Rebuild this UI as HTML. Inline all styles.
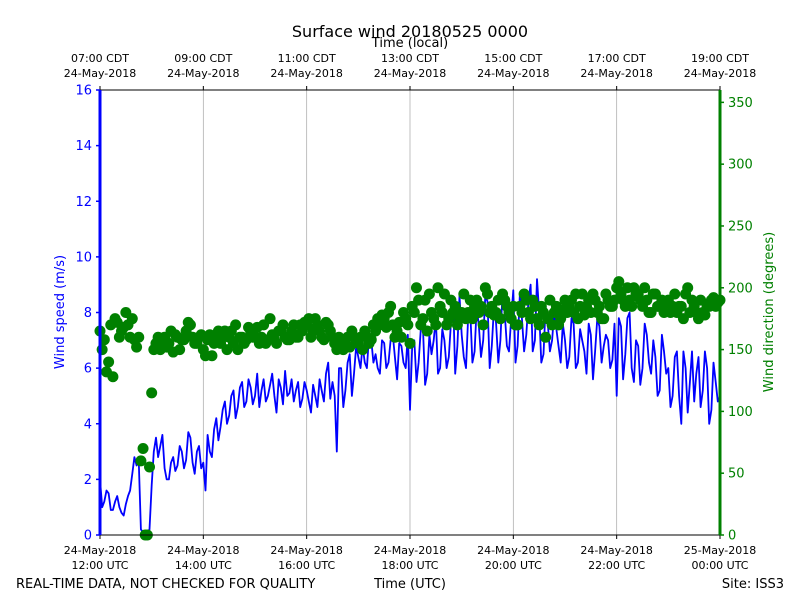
<!DOCTYPE html>
<html><head><meta charset="utf-8"><style>
body{margin:0;background:#fff;}
svg text{font-family:"DejaVu Sans","Liberation Sans",sans-serif;}
</style></head><body>
<svg id="chart" width="800" height="600" xmlns="http://www.w3.org/2000/svg">
<rect width="800" height="600" fill="#fff"/>
<text x="410" y="37" font-size="16" text-anchor="middle">Surface wind 20180525 0000</text>
<text x="410" y="47" font-size="13" text-anchor="middle">Time (local)</text>
<g id="grid"></g>
<g id="marks"></g>
<g id="axes"></g>
<text transform="translate(64,312) rotate(-90)" font-size="13" fill="#0000ff" text-anchor="middle">Wind speed (m/s)</text>
<text transform="translate(773,312) rotate(-90)" font-size="13" fill="#008000" text-anchor="middle">Wind direction (degrees)</text>
<text x="16" y="588" font-size="13">REAL-TIME DATA, NOT CHECKED FOR QUALITY</text>
<text x="410" y="588" font-size="13" text-anchor="middle">Time (UTC)</text>
<text x="784" y="588" font-size="13" text-anchor="end">Site: ISS3</text>
</svg>
<script>
const speed=[2.0,1.2,1.5,0.9,1.4,0.8,1.1,1.6,2.8,2.6,0.1,0.1,
1.8,3.5,3.2,2.4,2.0,2.8,2.5,3.0,2.7,3.5,2.2,3.2,
2.6,3.6,2.8,4.2,3.9,4.8,4.3,5.2,4.6,5.5,4.8,5.3,
5.0,4.6,5.6,5.0,5.8,4.4,5.3,5.9,5.1,4.8,5.5,4.9,
5.2,4.4,5.0,5.6,4.8,6.2,5.5,3.0,6.0,5.2,6.5,5.8,
6.4,6.8,6.0,7.0,6.5,5.8,6.9,6.2,7.2,5.6,6.8,6.0,
4.5,7.0,6.2,7.5,5.8,6.5,7.8,6.0,7.0,6.4,8.5,6.8,
7.2,6.0,8.0,6.6,7.5,7.0,8.4,6.8,7.6,7.0,8.0,6.6,
8.8,6.8,7.8,7.2,9.0,7.0,8.0,6.5,7.6,7.0,7.4,6.2,
7.0,6.4,7.6,6.2,7.0,5.8,7.2,6.6,7.5,6.8,7.0,6.3,
5.0,7.5,6.5,8.0,5.5,6.8,6.0,7.2,5.8,6.4,5.2,6.6,
6.0,5.0,6.6,4.0,6.0,5.5,4.8,6.4,5.2,6.0,4.5,5.5,5.0];
const speedMid=[1.0,1.6,0.9,1.2,1.0,0.7,1.4,2.2,2.5,0.2,0.1,0.2,
3.0,2.8,3.6,2.0,2.6,2.3,3.2,2.4,3.7,2.6,3.0,2.4,
1.6,3.0,3.8,3.4,4.5,4.0,5.0,4.2,5.3,4.6,5.6,4.7,
5.8,5.2,4.8,5.4,5.0,5.6,4.7,5.0,5.6,5.2,4.6,5.5,
4.8,5.4,4.6,5.2,5.8,4.9,5.0,6.0,4.6,6.2,5.0,6.8,
6.0,6.2,7.2,6.2,6.0,7.0,6.0,7.0,6.4,6.9,6.2,7.2,
6.8,5.5,7.4,5.4,7.2,7.0,5.8,7.4,6.0,7.6,5.8,8.6,
6.4,7.8,6.2,8.2,6.4,8.6,6.0,8.2,6.2,8.8,6.8,7.8,
6.2,8.6,6.6,8.4,6.6,9.2,6.2,8.2,6.6,8.0,6.8,7.6,
6.0,7.8,6.0,7.4,6.6,7.6,5.6,7.8,6.2,7.2,6.0,7.6,
7.8,5.6,7.8,6.0,7.0,5.4,7.6,6.2,7.0,5.0,7.2,5.8,
4.6,6.4,5.0,6.6,4.4,6.6,5.8,4.6,6.6,4.0,6.2,4.8];
const direction=[165,158,140,128,172,165,180,160,158,160,70,0,
115,155,150,160,155,148,160,158,165,170,155,160,
150,158,145,160,155,165,160,155,150,160,158,165,
160,155,170,158,162,155,165,160,158,170,160,165,
170,160,175,165,158,170,160,150,155,158,152,160,
155,150,160,158,165,170,175,180,170,165,160,175,
155,180,190,175,165,180,170,185,195,175,180,170,
180,175,190,185,180,170,195,185,180,175,190,180,
185,170,180,190,175,185,170,180,175,170,185,175,
190,185,180,175,195,185,180,190,185,175,190,185,
200,195,185,190,200,195,185,190,180,195,185,180,
190,185,180,185,195,180,185,175,180,185,190,185,190];
const directionMid=[150,132,170,175,160,168,170,175,152,60,0,55,
150,160,158,152,165,162,150,158,172,160,155,162,
145,162,155,165,160,150,165,170,160,155,168,160,
168,160,155,175,158,165,170,158,165,160,170,172,
175,165,170,160,172,165,155,160,150,160,165,158,
160,165,155,170,175,178,168,185,160,172,180,170,
185,200,170,190,195,175,200,180,170,190,185,175,
195,180,175,190,185,200,180,178,190,195,185,175,
170,185,195,180,190,175,185,160,190,180,170,182,
180,190,195,185,178,190,195,180,175,195,185,190,
205,190,200,185,195,190,200,180,195,185,190,188,
180,195,185,175,200,190,180,190,178,185,192,188];
const stepMinutes=5;
const speedTicks=[0,2,4,6,8,10,12,14,16];
const dirTicks=[0,50,100,150,200,250,300,350];
const utcLabels=["24-May-2018|12:00 UTC","24-May-2018|14:00 UTC","24-May-2018|16:00 UTC","24-May-2018|18:00 UTC","24-May-2018|20:00 UTC","24-May-2018|22:00 UTC","25-May-2018|00:00 UTC"];
const cdtLabels=["07:00 CDT|24-May-2018","09:00 CDT|24-May-2018","11:00 CDT|24-May-2018","13:00 CDT|24-May-2018","15:00 CDT|24-May-2018","17:00 CDT|24-May-2018","19:00 CDT|24-May-2018"];

const X0=100,X1=720,Y0=535,Y1=90;
const xs=m=>X0+m/720*(X1-X0);
const ys=v=>Y0-v/16*(Y0-Y1);
const yd=d=>Y0-d/360*(Y0-Y1);
const NS="http://www.w3.org/2000/svg";
function mk(tag,attrs,parent){const e=document.createElementNS(NS,tag);for(const k in attrs)e.setAttribute(k,attrs[k]);parent.appendChild(e);return e;}
const grid=document.getElementById('grid'),marks=document.getElementById('marks'),axes=document.getElementById('axes');

utcLabels.forEach((lab,i)=>{
  const x=xs(i*120);
  if(i>0&&i<6){const g=mk('line',{x1:x,x2:x,y1:Y1,y2:Y0,stroke:'#b0b0b0','stroke-width':0.8},grid);
  
  }
  mk('line',{x1:x,x2:x,y1:Y0,y2:Y0+4,stroke:'#000'},axes);
  mk('line',{x1:x,x2:x,y1:Y1,y2:Y1-4,stroke:'#000'},axes);
  const p=lab.split('|');
  const t=mk('text',{x:x,y:554,'font-size':11,'text-anchor':'middle'},axes);t.textContent=p[0];
  
  
  const t2=mk('text',{x:x,y:569,'font-size':11,'text-anchor':'middle'},axes);t2.textContent=p[1];
  
  
  const q=cdtLabels[i].split('|');
  const u=mk('text',{x:x,y:62,'font-size':11,'text-anchor':'middle'},axes);u.textContent=q[0];
  
  
  const u2=mk('text',{x:x,y:77,'font-size':11,'text-anchor':'middle'},axes);u2.textContent=q[1];
  
  
});

let d='';
speed.forEach((v,i)=>{
  d+=(i?'L':'M')+xs(i*stepMinutes).toFixed(1)+','+ys(v).toFixed(1);
  if(i<speedMid.length) d+='L'+xs(i*stepMinutes+stepMinutes/2).toFixed(1)+','+ys(speedMid[i]).toFixed(1);
});
const line=mk('path',{d:d,fill:'none',stroke:'#0000ff','stroke-width':1.8,'stroke-linejoin':'round'},marks);



direction.forEach((v,i)=>{
  const c=mk('circle',{cx:xs(i*stepMinutes),cy:yd(v),r:5.5,fill:'#008000'},marks);
  
  
});
directionMid.forEach((v,i)=>{
  const c=mk('circle',{cx:xs(i*stepMinutes+stepMinutes/2),cy:yd(v),r:5.5,fill:'#008000'},marks);
  
  
});

const fr=mk('rect',{x:X0,y:Y1,width:X1-X0,height:Y0-Y1,fill:'none',stroke:'#000','stroke-width':1},axes);


const ls=mk('line',{x1:X0,x2:X0,y1:Y1,y2:Y0,stroke:'#0000ff','stroke-width':3},axes);


const rs=mk('line',{x1:X1,x2:X1,y1:Y1,y2:Y0,stroke:'#008000','stroke-width':3},axes);



speedTicks.forEach(v=>{
  const y=ys(v);
  mk('line',{x1:X0-4,x2:X0,y1:y,y2:y,stroke:'#0000ff','stroke-width':1.5},axes);
  const t=mk('text',{x:X0-8,y:y+4.5,'font-size':13,'text-anchor':'end',fill:'#0000ff'},axes);t.textContent=v;
  
  
});
dirTicks.forEach(v=>{
  const y=yd(v);
  mk('line',{x1:X1,x2:X1+4,y1:y,y2:y,stroke:'#008000','stroke-width':1.5},axes);
  const t=mk('text',{x:X1+8,y:y+4.5,'font-size':13,fill:'#008000'},axes);t.textContent=v;
  
  
});
</script>
</body></html>
